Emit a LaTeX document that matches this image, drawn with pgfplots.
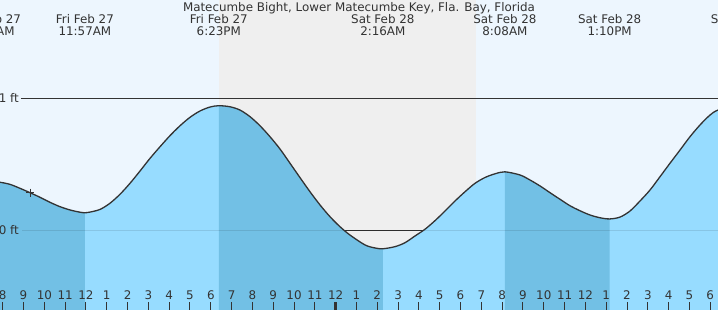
\documentclass[border=0pt]{standalone}
\usepackage{fontspec}
\setmainfont{DejaVu Sans}
\usepackage{pgfplots}
\pgfplotsset{compat=1.18}
\definecolor{sky}{HTML}{EDF6FE}
\definecolor{night}{HTML}{EFEFEF}
\definecolor{waterlight}{HTML}{97DCFF}
\definecolor{waterdark}{HTML}{72C0E5}
\definecolor{ink}{HTML}{333333}
\tikzset{lbl/.style={anchor=base, inner sep=0pt, font=\fontsize{11.9}{14}\selectfont, text=ink}}
\begin{document}
\begin{tikzpicture}
\useasboundingbox (0,0) rectangle (718pt,310pt);
\clip (0,0) rectangle (718pt,310pt);
\begin{axis}[
  at={(0,0)}, anchor=south west,
  scale only axis, width=718pt, height=310pt,
  xmin=7.870, xmax=42.373, ymin=-0.604, ymax=1.745,
  axis line style={draw=none},
  ytick=\empty,
  xtick={8,...,42},
  xticklabels={8,9,10,11,12,1,2,3,4,5,6,7,8,9,10,11,12,1,2,3,4,5,6,7,8,9,10,11,12,1,2,3,4,5,6},
  xtick pos=bottom,
  tick align=inside,
  major tick length=7.7pt,
  tick style={ink, line width=1pt},
  xticklabel style={anchor=base, yshift=10pt, font=\fontsize{11.9}{14}\selectfont, text=ink},
  extra x ticks={24}, extra x tick labels={},
  extra x tick style={tick style={line width=2.7pt}},
  axis on top,
  clip=false,
]
% sky (day) and night background
\fill[sky] (axis cs:7,-3) rectangle (axis cs:44,3);
\fill[night] (axis cs:18.41,-3) rectangle (axis cs:30.73,3);
% 0 ft line (covered by water where the water is above it)
\draw[ink, line width=1pt] (axis cs:8.93,0) -- (axis cs:43,0);
% water, light
\addplot[fill=waterlight, draw=none, smooth, forget plot] coordinates {
(7.49,-3) (7.49,0.368) (7.870,0.364) (8.351,0.348) (8.831,0.318) (9.312,0.285) (9.792,0.250)
(10.273,0.212) (10.753,0.179) (11.234,0.154) (11.714,0.137) (11.95,0.133) (12.195,0.138)
(12.676,0.158) (13.156,0.205) (13.637,0.273) (14.117,0.356) (14.598,0.449) (15.078,0.545)
(15.559,0.633) (16.039,0.717) (16.520,0.792) (17.000,0.856) (17.481,0.904) (17.962,0.934)
(18.383,0.944) (18.923,0.936) (19.403,0.911) (19.884,0.861) (20.364,0.792) (20.845,0.709)
(21.325,0.616) (21.806,0.508) (22.287,0.399) (22.767,0.292) (23.248,0.192) (23.728,0.103)
(24.209,0.027) (24.689,-0.036) (25.410,-0.111) (25.891,-0.134) (26.267,-0.140) (26.852,-0.124)
(27.333,-0.094) (27.813,-0.043) (28.294,0.008) (28.774,0.073) (29.255,0.146) (29.735,0.222)
(30.216,0.292) (30.696,0.356) (31.177,0.400) (31.657,0.428) (32.133,0.443)
(32.858,0.419) (33.339,0.381) (33.819,0.336) (34.300,0.285) (34.780,0.235) (35.261,0.186)
(35.741,0.148) (36.222,0.116) (36.703,0.095) (37.167,0.086) (37.664,0.100) (38.144,0.146)
(38.625,0.222) (39.105,0.305) (39.586,0.406) (40.066,0.508) (40.547,0.608) (41.027,0.709)
(41.508,0.798) (41.988,0.873) (42.373,0.911) (43.38,0.96) (43.38,-3)};
% water, dark bands between tide times
\begin{scope}
\clip (axis cs:7,-3) rectangle (axis cs:11.95,3) (axis cs:18.383,-3) rectangle (axis cs:26.267,3) (axis cs:32.133,-3) rectangle (axis cs:37.167,3);
\addplot[fill=waterdark, draw=none, smooth, forget plot] coordinates {
(7.49,-3) (7.49,0.368) (7.870,0.364) (8.351,0.348) (8.831,0.318) (9.312,0.285) (9.792,0.250)
(10.273,0.212) (10.753,0.179) (11.234,0.154) (11.714,0.137) (11.95,0.133) (12.195,0.138)
(12.676,0.158) (13.156,0.205) (13.637,0.273) (14.117,0.356) (14.598,0.449) (15.078,0.545)
(15.559,0.633) (16.039,0.717) (16.520,0.792) (17.000,0.856) (17.481,0.904) (17.962,0.934)
(18.383,0.944) (18.923,0.936) (19.403,0.911) (19.884,0.861) (20.364,0.792) (20.845,0.709)
(21.325,0.616) (21.806,0.508) (22.287,0.399) (22.767,0.292) (23.248,0.192) (23.728,0.103)
(24.209,0.027) (24.689,-0.036) (25.410,-0.111) (25.891,-0.134) (26.267,-0.140) (26.852,-0.124)
(27.333,-0.094) (27.813,-0.043) (28.294,0.008) (28.774,0.073) (29.255,0.146) (29.735,0.222)
(30.216,0.292) (30.696,0.356) (31.177,0.400) (31.657,0.428) (32.133,0.443)
(32.858,0.419) (33.339,0.381) (33.819,0.336) (34.300,0.285) (34.780,0.235) (35.261,0.186)
(35.741,0.148) (36.222,0.116) (36.703,0.095) (37.167,0.086) (37.664,0.100) (38.144,0.146)
(38.625,0.222) (39.105,0.305) (39.586,0.406) (40.066,0.508) (40.547,0.608) (41.027,0.709)
(41.508,0.798) (41.988,0.873) (42.373,0.911) (43.38,0.96) (43.38,-3)};
\end{scope}
% reference lines
\draw[ink, line width=1pt] (axis cs:8.87,1) -- (axis cs:43,1);
\draw[black, opacity=0.1, line width=1pt] (axis cs:8.93,0) -- (axis cs:43,0);
% tide curve
\addplot[ink, line width=1.3pt, smooth] coordinates {
(7.49,0.368) (7.870,0.364) (8.351,0.348) (8.831,0.318) (9.312,0.285) (9.792,0.250)
(10.273,0.212) (10.753,0.179) (11.234,0.154) (11.714,0.137) (11.95,0.133) (12.195,0.138)
(12.676,0.158) (13.156,0.205) (13.637,0.273) (14.117,0.356) (14.598,0.449) (15.078,0.545)
(15.559,0.633) (16.039,0.717) (16.520,0.792) (17.000,0.856) (17.481,0.904) (17.962,0.934)
(18.383,0.944) (18.923,0.936) (19.403,0.911) (19.884,0.861) (20.364,0.792) (20.845,0.709)
(21.325,0.616) (21.806,0.508) (22.287,0.399) (22.767,0.292) (23.248,0.192) (23.728,0.103)
(24.209,0.027) (24.689,-0.036) (25.410,-0.111) (25.891,-0.134) (26.267,-0.140) (26.852,-0.124)
(27.333,-0.094) (27.813,-0.043) (28.294,0.008) (28.774,0.073) (29.255,0.146) (29.735,0.222)
(30.216,0.292) (30.696,0.356) (31.177,0.400) (31.657,0.428) (32.133,0.443)
(32.858,0.419) (33.339,0.381) (33.819,0.336) (34.300,0.285) (34.780,0.235) (35.261,0.186)
(35.741,0.148) (36.222,0.116) (36.703,0.095) (37.167,0.086) (37.664,0.100) (38.144,0.146)
(38.625,0.222) (39.105,0.305) (39.586,0.406) (40.066,0.508) (40.547,0.608) (41.027,0.709)
(41.508,0.798) (41.988,0.873) (42.373,0.911) (43.38,0.96)};
\addplot[only marks, mark=+, mark size=4pt, ink, line width=1pt] coordinates {(9.312,0.285)};
% axis labels
\node[lbl, anchor=east] at (axis cs:8.783,1) {1 ft};
\node[lbl, anchor=east] at (axis cs:8.783,0) {0 ft};
% title and tide event labels
\node[lbl] at (axis cs:25.12,1.661) {Matecumbe Bight, Lower Matecumbe Key, Fla. Bay, Florida};
\node[lbl] at (axis cs:7.49,1.568) {Fri Feb 27};
\node[lbl] at (axis cs:7.49,1.477) {7:29AM};
\node[lbl] at (axis cs:11.95,1.568) {Fri Feb 27};
\node[lbl] at (axis cs:11.95,1.477) {11:57AM};
\node[lbl] at (axis cs:18.383,1.568) {Fri Feb 27};
\node[lbl] at (axis cs:18.383,1.477) {6:23PM};
\node[lbl] at (axis cs:26.267,1.568) {Sat Feb 28};
\node[lbl] at (axis cs:26.267,1.477) {2:16AM};
\node[lbl] at (axis cs:32.133,1.568) {Sat Feb 28};
\node[lbl] at (axis cs:32.133,1.477) {8:08AM};
\node[lbl] at (axis cs:37.167,1.568) {Sat Feb 28};
\node[lbl] at (axis cs:37.167,1.477) {1:10PM};
\node[lbl] at (axis cs:43.55,1.568) {Sat Feb 28};
\node[lbl] at (axis cs:43.55,1.477) {7:31PM};
\end{axis}
\end{tikzpicture}
\end{document}
